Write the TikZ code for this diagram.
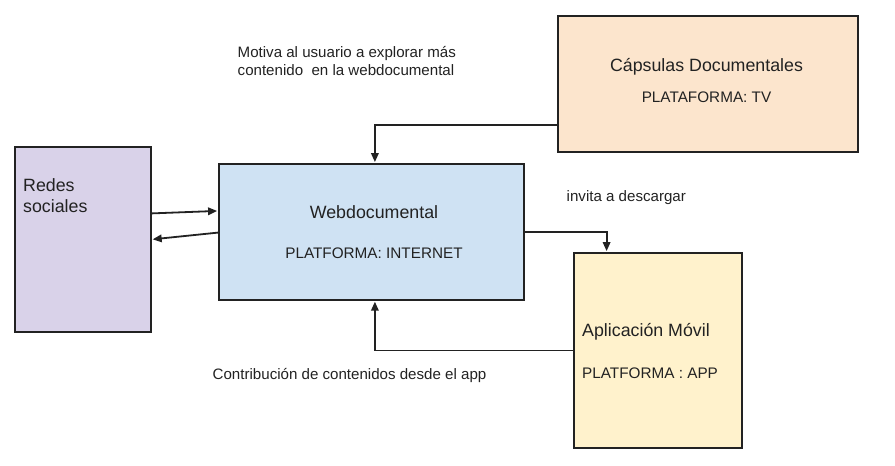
\documentclass[tikz,border=0pt]{standalone}
\usepackage{fontspec}
\setmainfont{Liberation Sans}
\usetikzlibrary{arrows.meta,calc}
\definecolor{redesfill}{HTML}{D9D2E9}
\definecolor{webfill}{HTML}{CFE2F3}
\definecolor{capsfill}{HTML}{FCE5CD}
\definecolor{appfill}{HTML}{FFF2CC}
\definecolor{ink}{HTML}{222222}
\tikzset{
  box/.style={draw=ink, line width=1.8pt, anchor=north west, inner sep=0pt},
  title/.style={font=\fontsize{17.8}{21.6}\selectfont, text=ink, inner sep=0pt},
  sub/.style={font=\fontsize{15.3}{17.7}\selectfont, text=ink, inner sep=0pt},
  lbl/.style={font=\fontsize{15.1}{17.7}\selectfont, text=ink, inner sep=0pt, align=left},
  arr/.style={draw=ink, line width=1.8pt, -{Triangle[length=9pt,width=7.5pt]}, shorten >=0.9pt}
}
\begin{document}
\begin{tikzpicture}[x=1pt,y=-1pt]
\useasboundingbox (0,0) rectangle (895,466);
% boxes
\node[box, fill=redesfill, minimum width=136pt, minimum height=185pt] (redes) at (14,146) {};
\node[box, fill=webfill, minimum width=305pt, minimum height=136pt] (web) at (218,163) {};
\node[box, fill=capsfill, minimum width=300pt, minimum height=136pt] (caps) at (557,15) {};
\node[box, fill=appfill, minimum width=168pt, minimum height=195pt] (app) at (573,252) {};
% texts in boxes
\node[title, anchor=base west, align=left] (redestxt) at (23,212.7) {Redes\\sociales};
\node[title, anchor=base] (webtitle) at (374,218.4) {Webdocumental};
\node[sub, anchor=base] (websub) at (374,258.2) {PLATFORMA: INTERNET};
\node[title, anchor=base] (capstitle) at (706.5,71.6) {Cápsulas Documentales};
\node[sub, anchor=base] (capssub) at (706.5,102) {PLATAFORMA: TV};
\node[title, anchor=base west] (apptitle) at (582,336.7) {Aplicación Móvil};
\node[sub, anchor=base west] (appsub) at (582,378.3) {PLATFORMA : APP};
% labels
\node[lbl, anchor=base west] (lmotiva) at (237.5,75.4) {Motiva al usuario a explorar más\\contenido\ \ en la webdocumental};
\node[lbl, anchor=base west] (linvita) at (566.5,201.7) {invita a descargar};
\node[lbl, anchor=base west] (lcontrib) at (212.5,379.3) {Contribución de contenidos desde el app};
% connectors
\draw[arr] ([yshift=26pt]redes.east) -- ([yshift=21pt]web.west);
\draw[arr] ([yshift=-0.7pt]web.west) -- (redes.east);
\draw[arr] ([yshift=-41.3pt]caps.west) -| ([xshift=3.5pt]web.north);
\draw[arr] (web.east) -| ([xshift=-51.3pt]app.north);
\draw[arr] (app.west) -| ([xshift=3.5pt]web.south);
\end{tikzpicture}
\end{document}
